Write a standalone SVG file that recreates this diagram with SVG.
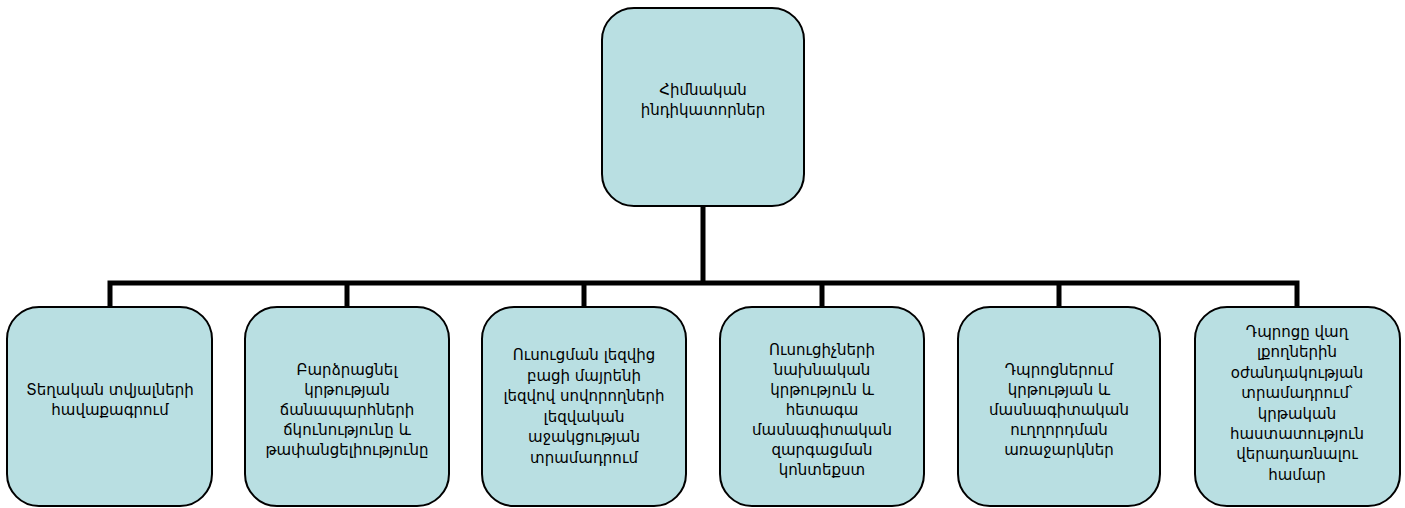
<svg xmlns="http://www.w3.org/2000/svg" width="1405" height="508" viewBox="0 0 1405 508">
<style>
.box{fill:#b9dfe2;stroke:#000;stroke-width:2}
.conn{fill:none;stroke:#000;stroke-width:5;stroke-linecap:square}
text{font-family:"DejaVu Sans","Noto Sans",sans-serif;font-size:15px;fill:#000;text-anchor:middle}
</style>
<rect width="1405" height="508" fill="#fff"/>
<g id="connectors">
<path class="conn" d="M703 207V283M110 283H1297M110 283V307M347 283V307M584 283V307M822 283V307M1059 283V307M1297 283V307"/>
</g>
<g id="root">
<rect class="box" x="602" y="8" width="202" height="198" rx="32"/>
<text x="703" y="95">Հիմնական</text>
<text x="703" y="115">ինդիկատորներ</text>
</g>
<g id="n1">
<rect class="box" x="7" y="307" width="205" height="199" rx="32"/>
<text x="110" y="395">Տեղական տվյալների</text>
<text x="110" y="415">հավաքագրում</text>
</g>
<g id="n2">
<rect class="box" x="245" y="307" width="204" height="199" rx="32"/>
<text x="347" y="375">Բարձրացնել</text>
<text x="347" y="395">կրթության</text>
<text x="347" y="415">ճանապարհների</text>
<text x="347" y="435">ճկունությունը և</text>
<text x="347" y="455">թափանցելիությունը</text>
</g>
<g id="n3">
<rect class="box" x="482" y="307" width="204" height="199" rx="32"/>
<text x="584" y="360">Ուսուցման լեզվից</text>
<text x="584" y="380.5">բացի մայրենի</text>
<text x="584" y="401">լեզվով սովորողների</text>
<text x="584" y="421.5">լեզվական</text>
<text x="584" y="442">աջակցության</text>
<text x="584" y="462.5">տրամադրում</text>
</g>
<g id="n4">
<rect class="box" x="720" y="307" width="204" height="199" rx="32"/>
<text x="822" y="355">Ուսուցիչների</text>
<text x="822" y="375">նախնական</text>
<text x="822" y="395">կրթություն և</text>
<text x="822" y="415">հետագա</text>
<text x="822" y="435">մասնագիտական</text>
<text x="822" y="455">զարգացման</text>
<text x="822" y="475">կոնտեքստ</text>
</g>
<g id="n5">
<rect class="box" x="958" y="307" width="202" height="199" rx="32"/>
<text x="1059" y="375">Դպրոցներում</text>
<text x="1059" y="395">կրթության և</text>
<text x="1059" y="415">մասնագիտական</text>
<text x="1059" y="435">ուղղորդման</text>
<text x="1059" y="455">առաջարկներ</text>
</g>
<g id="n6">
<rect class="box" x="1195" y="307" width="205" height="199" rx="32"/>
<text x="1297" y="337">Դպրոցը վաղ</text>
<text x="1297" y="357.4">լքողներին</text>
<text x="1297" y="377.8">օժանդակության</text>
<text x="1297" y="398.2">տրամադրում՝</text>
<text x="1297" y="418.6">կրթական</text>
<text x="1297" y="439">հաստատություն</text>
<text x="1297" y="459.4">վերադառնալու</text>
<text x="1297" y="479.8">համար</text>
</g>
</svg>
